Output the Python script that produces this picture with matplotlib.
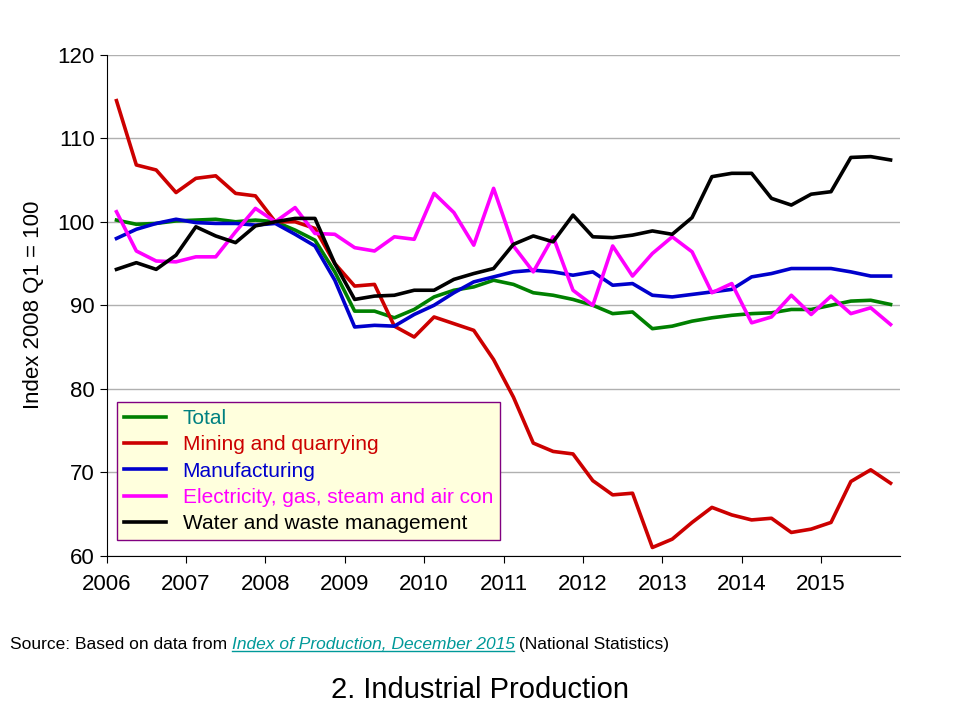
import matplotlib
matplotlib.use("Agg")
import matplotlib.pyplot as plt
import numpy as np

years = [2006, 2007, 2008, 2009, 2010, 2011, 2012, 2013, 2014, 2015]
total = [100.2, 99.7, 99.8, 100.1, 100.2, 100.3, 100.0, 100.2, 100.0, 99.0, 97.8, 94, 89.3, 89.3, 88.5, 89.5, 91, 91.8, 92.2, 93, 92.5, 91.5, 91.2, 90.7, 90, 89, 89.2, 87.2, 87.5, 88.1, 88.5, 88.8, 89, 89.1, 89.5, 89.5, 90, 90.5, 90.6, 90.1]
mining = [114.5, 106.8, 106.2, 103.5, 105.2, 105.5, 103.4, 103.1, 100, 100, 99.2, 95, 92.3, 92.5, 87.5, 86.2, 88.6, 87.8, 87, 83.5, 79, 73.5, 72.5, 72.2, 69, 67.3, 67.5, 61, 62, 64, 65.8, 64.9, 64.3, 64.5, 62.8, 63.2, 64, 68.9, 70.3, 68.7]
manuf = [98, 99.1, 99.8, 100.3, 99.9, 99.8, 99.8, 99.6, 99.8, 98.5, 97.1, 93, 87.4, 87.6, 87.5, 88.9, 90, 91.5, 92.8, 93.4, 94, 94.2, 94, 93.6, 94, 92.4, 92.6, 91.2, 91, 91.3, 91.6, 91.9, 93.4, 93.8, 94.4, 94.4, 94.4, 94, 93.5, 93.5]
elec = [101.2, 96.5, 95.3, 95.2, 95.8, 95.8, 98.8, 101.6, 100, 101.7, 98.6, 98.5, 96.9, 96.5, 98.2, 97.9, 103.4, 101.1, 97.2, 104, 97.1, 94, 98.2, 91.8, 90, 97.1, 93.5, 96.2, 98.2, 96.4, 91.5, 92.6, 87.9, 88.6, 91.2, 88.9, 91.1, 89, 89.7, 87.7]
water = [94.3, 95.1, 94.3, 96, 99.4, 98.3, 97.5, 99.5, 100, 100.4, 100.4, 95, 90.7, 91.1, 91.2, 91.8, 91.8, 93.1, 93.8, 94.4, 97.3, 98.3, 97.6, 100.8, 98.2, 98.1, 98.4, 98.9, 98.5, 100.5, 105.4, 105.8, 105.8, 102.8, 102, 103.3, 103.6, 107.7, 107.8, 107.4]

series = [
    ("Total", total, "#008000", "#008080"),
    ("Mining and quarrying", mining, "#CC0000", "#CC0000"),
    ("Manufacturing", manuf, "#0000CC", "#0000CC"),
    ("Electricity, gas, steam and air con", elec, "#FF00FF", "#FF00FF"),
    ("Water and waste management", water, "#000000", "#000000"),
]

x = 2006 + (np.arange(len(total)) + 0.5) / 4

plt.rcParams['font.family'] = ['Liberation Sans', 'DejaVu Sans']
fig = plt.figure(figsize=(9.6, 7.2), dpi=100)
ax = fig.add_axes([0.111, 0.228, 0.827, 0.696])
for name, vals, c, tc in series:
    ax.plot(x, vals, color=c, lw=2.6, label=name)
ax.set_xlim(2006, 2016)
ax.set_ylim(60, 120)
ax.set_yticks(range(60, 121, 10))
ax.set_xticks(years)
ax.tick_params(labelsize=16, direction='out', length=5)
ax.tick_params(axis='x', pad=8)
ax.grid(axis='y', color='#b0b0b0', lw=1)
ax.set_axisbelow(True)
for s in ['top', 'right']:
    ax.spines[s].set_visible(False)
ax.set_ylabel("Index 2008 Q1 = 100", fontsize=16, labelpad=10)
leg = ax.legend(loc='lower left', bbox_to_anchor=(0.0, 0.01), fontsize=15, frameon=True,
                fancybox=False, handlelength=2.0, borderpad=0.35, labelspacing=0.35,
                facecolor='#FFFFDD', edgecolor='#800080', framealpha=1)
for t, (_, _, _, tc) in zip(leg.get_texts(), series):
    t.set_color(tc)

t1 = fig.text(0.01, 0.105, "Source: Based on data from ", fontsize=12.5, va='center')
t2 = fig.text(0.276, 0.105, "Index of Production, December 2015", fontsize=12.5, va='center',
              style='italic', color='#009999')
t3 = fig.text(0.62, 0.105, " (National Statistics)", fontsize=12.5, va='center')
fig.canvas.draw()
r = fig.canvas.get_renderer()
b1 = t1.get_window_extent(r)
t2.set_x(b1.x1 / fig.bbox.width)
b2 = t2.get_window_extent(r)
t3.set_x(b2.x1 / fig.bbox.width)
fig.add_artist(plt.Line2D([b2.x0 / fig.bbox.width, b2.x1 / fig.bbox.width],
                          [(b2.y0 + 1) / fig.bbox.height] * 2, color='#009999', lw=1))
fig.text(0.5, 0.042, "2. Industrial Production", fontsize=21, ha='center', va='center')
fig.savefig("out.png")
